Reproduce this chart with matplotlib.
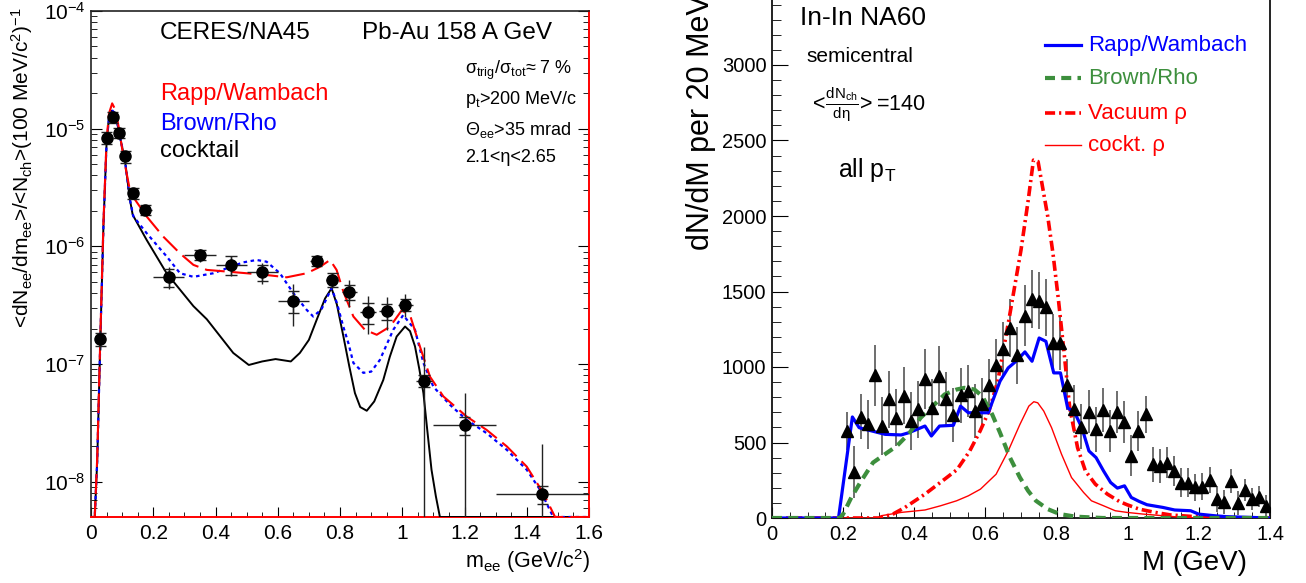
import numpy as np
import matplotlib
matplotlib.use("Agg")
import matplotlib.pyplot as plt
from matplotlib.ticker import MultipleLocator, LogLocator, NullFormatter

plt.rcParams['font.family'] = ['Liberation Sans', 'DejaVu Sans']
plt.rcParams['mathtext.fontset'] = 'custom'
plt.rcParams['mathtext.rm'] = 'Liberation Sans'
plt.rcParams['mathtext.it'] = 'Liberation Sans:italic'
plt.rcParams['mathtext.default'] = 'regular'

# ---------------- CERES/NA45 (left) ----------------
ceres_m = [0.03, 0.05, 0.07, 0.09, 0.11, 0.135, 0.175, 0.25, 0.35, 0.45, 0.55,
           0.65, 0.725, 0.775, 0.83, 0.89, 0.95, 1.01, 1.07, 1.2, 1.45]
ceres_y = [1.63e-7, 8.4e-6, 1.25e-5, 9.2e-6, 5.8e-6, 2.83e-6, 2.04e-6, 5.45e-7,
           8.45e-7, 6.95e-7, 6.0e-7, 3.45e-7, 7.5e-7, 5.2e-7, 4.1e-7, 2.75e-7,
           2.8e-7, 3.2e-7, 7.2e-8, 3.0e-8, 7.8e-9]
ceres_dm = [0.01, 0.01, 0.01, 0.01, 0.01, 0.013, 0.02, 0.05, 0.05, 0.05, 0.05,
            0.05, 0.02, 0.02, 0.025, 0.025, 0.025, 0.025, 0.025, 0.1, 0.15]
ceres_stat_hi = [0.2, 0.1, 0.08, 0.08, 0.1, 0.1, 0.1, 0.22, 0.13, 0.2, 0.2,
                 0.38, 0.12, 0.15, 0.26, 0.37, 0.32, 0.23, 0.95, 0.9, 1.65]
ceres_stat_lo = [0.2, 0.1, 0.08, 0.08, 0.1, 0.1, 0.1, 0.2, 0.13, 0.2, 0.2,
                 0.39, 0.12, 0.15, 0.25, 0.35, 0.30, 0.21, 1.0, 1.0, 1.0]
ceres_sys = [0.13, 0.12, 0.1, 0.1, 0.12, 0.1, 0.09, 0.18, 0.1, 0.18, 0.15,
             0.22, 0.1, 0.14, 0.15, 0.2, 0.15, 0.12, 0.12, 0.17, 0.17]

cock_m = [0.0, 0.012, 0.02, 0.03, 0.04, 0.05, 0.058, 0.066, 0.075, 0.085, 0.093,
          0.109, 0.125, 0.134, 0.179, 0.243, 0.329, 0.372, 0.457, 0.507, 0.55,
          0.593, 0.642, 0.671, 0.7, 0.725, 0.752, 0.773, 0.79, 0.811, 0.83, 0.848,
          0.865, 0.886, 0.91, 0.939, 0.96, 0.982, 1.009, 1.025, 1.041, 1.055,
          1.068, 1.08, 1.094, 1.108, 1.121, 1.6]
cock_v = [5e-9, 5e-9, 1.5e-8, 1.6e-7, 1.5e-6, 7.5e-6, 1.25e-5, 1.42e-5, 1.35e-5,
          1.1e-5, 8.5e-6, 5.4e-6, 2.5e-6, 1.85e-6, 1.13e-6, 5.9e-7, 3.1e-7,
          2.4e-7, 1.24e-7, 9.8e-8, 1.05e-7, 1.1e-7, 1.05e-7, 1.24e-7, 1.6e-7,
          2.37e-7, 3.6e-7, 4.4e-7, 3.2e-7, 1.71e-7, 9.5e-8, 5.65e-8, 4.3e-8,
          4.0e-8, 4.8e-8, 7.3e-8, 1.15e-7, 1.71e-7, 2.08e-7, 1.9e-7, 1.41e-7,
          9e-8, 5.65e-8, 2.8e-8, 1.26e-8, 7.5e-9, 5e-9, 5e-9]

rapp_m = [0.0, 0.012, 0.02, 0.03, 0.04, 0.05, 0.058, 0.068, 0.078, 0.09, 0.104,
          0.125, 0.141, 0.179, 0.232, 0.286, 0.329, 0.372, 0.436, 0.5, 0.564,
          0.629, 0.693, 0.736, 0.768, 0.789, 0.811, 0.843, 0.88, 0.918, 0.961,
          0.998, 1.025, 1.057, 1.089, 1.132, 1.207, 1.271, 1.336, 1.4, 1.453,
          1.491, 1.6]
rapp_v = [5e-9, 5e-9, 1.6e-8, 1.7e-7, 1.6e-6, 8e-6, 1.35e-5, 1.64e-5, 1.45e-5,
          1.0e-5, 5.8e-6, 3.0e-6, 2.5e-6, 1.79e-6, 1.21e-6, 8.7e-7, 6.95e-7,
          6.3e-7, 6.1e-7, 5.9e-7, 5.7e-7, 5.45e-7, 5.9e-7, 6.7e-7, 7.65e-7,
          6.3e-7, 4.1e-7, 2.53e-7, 1.95e-7, 1.77e-7, 2.08e-7, 2.85e-7, 2.6e-7,
          1.4e-7, 7.8e-8, 5.3e-8, 3.57e-8, 2.75e-8, 1.99e-8, 1.34e-8, 8.0e-9,
          5e-9, 5e-9]

brown_m = [0.0, 0.012, 0.02, 0.03, 0.04, 0.05, 0.058, 0.066, 0.075, 0.085, 0.093,
           0.109, 0.125, 0.136, 0.179, 0.243, 0.286, 0.329, 0.393, 0.436, 0.489,
           0.532, 0.564, 0.607, 0.65, 0.693, 0.714, 0.74, 0.757, 0.773, 0.79,
           0.81, 0.827, 0.843, 0.875, 0.9, 0.928, 0.971, 1.003, 1.041, 1.068,
           1.1, 1.153, 1.207, 1.271, 1.336, 1.4, 1.443, 1.485, 1.6]
brown_v = [5e-9, 5e-9, 1.5e-8, 1.6e-7, 1.5e-6, 7.5e-6, 1.25e-5, 1.45e-5, 1.37e-5,
           1.1e-5, 8.5e-6, 5.4e-6, 2.5e-6, 1.8e-6, 1.29e-6, 8.2e-7, 5.9e-7,
           5.5e-7, 5.9e-7, 6.5e-7, 7.3e-7, 7.65e-7, 7.4e-7, 5.9e-7, 4.0e-7,
           2.88e-7, 2.53e-7, 2.9e-7, 3.6e-7, 4.4e-7, 3.3e-7, 2.1e-7, 1.5e-7,
           1.02e-7, 8.4e-8, 8.6e-8, 1.08e-7, 1.95e-7, 2.6e-7, 1.95e-7, 1.02e-7,
           6.4e-8, 4.5e-8, 3.35e-8, 2.58e-8, 1.86e-8, 1.26e-8, 8.5e-9, 5e-9, 5e-9]

# ---------------- NA60 In-In (right) ----------------
na60_M = [0.21, 0.23, 0.25, 0.27, 0.29, 0.31, 0.33, 0.35, 0.37, 0.39,
          0.41, 0.43, 0.45, 0.47, 0.49, 0.51, 0.53, 0.55, 0.57, 0.59,
          0.61, 0.63, 0.65, 0.67, 0.69, 0.71, 0.73, 0.75, 0.77, 0.79,
          0.81, 0.83, 0.85, 0.87, 0.89, 0.91, 0.93, 0.95, 0.97, 0.99,
          1.01, 1.03, 1.05, 1.07, 1.09, 1.11, 1.13, 1.15, 1.17, 1.19,
          1.21, 1.23, 1.25, 1.27, 1.29, 1.31, 1.33, 1.35, 1.37, 1.39]
na60_y = [575, 305, 670, 620, 945, 610, 785, 665, 810, 642,
          720, 920, 730, 940, 790, 682, 812, 840, 708, 757,
          880, 1015, 1120, 1258, 1078, 1340, 1450, 1440, 1395, 1160,
          1160, 884, 720, 605, 705, 587, 715, 576, 704, 638,
          412, 576, 686, 356, 345, 367, 312, 235, 235, 202,
          207, 251, 125, 108, 246, 97, 185, 125, 141, 81]
na60_err = [125, 170, 150, 160, 200, 190, 190, 190, 190, 190,
            190, 200, 190, 200, 180, 180, 180, 170, 180, 170,
            170, 170, 180, 190, 190, 200, 190, 190, 190, 190,
            180, 170, 160, 150, 145, 150, 145, 140, 140, 140,
            135, 130, 120, 115, 110, 105, 100, 95, 95, 90,
            90, 85, 85, 80, 80, 80, 75, 75, 70, 70]

rw_M = [0, 0.187, 0.226, 0.245, 0.273, 0.318, 0.363, 0.385, 0.43, 0.448, 0.471,
        0.51, 0.53, 0.552, 0.575, 0.608, 0.641, 0.664, 0.686, 0.711, 0.731,
        0.751, 0.77, 0.792, 0.811, 0.831, 0.851, 0.871, 0.891, 0.911, 0.932,
        0.952, 0.971, 0.991, 1.01, 1.032, 1.054, 1.099, 1.132, 1.177, 1.199,
        1.244, 1.277, 1.4]
rw_v = [0, 0, 669, 598, 581, 554, 550, 565, 609, 543, 609,
        614, 741, 697, 697, 697, 906, 994, 1038, 1100, 1038,
        1192, 1170, 961, 961, 730, 697, 598, 444, 400, 312,
        235, 198, 213, 136, 110, 88, 70, 53, 48, 26,
        15, 9, 0]

br_M = [0, 0.19, 0.2, 0.223, 0.251, 0.284, 0.324, 0.351, 0.385, 0.418, 0.452,
        0.485, 0.519, 0.541, 0.569, 0.591, 0.619, 0.641, 0.669, 0.697, 0.72,
        0.742, 0.775, 0.809, 0.853, 0.93, 1.4]
br_v = [0, 0, 26, 136, 246, 367, 433, 477, 559, 664, 741,
        818, 851, 862, 851, 807, 686, 565, 400, 268, 180,
        114, 59, 26, 9, 0, 0]

vac_M = [0, 0.30, 0.34, 0.374, 0.43, 0.487, 0.52, 0.555, 0.585, 0.61, 0.635,
         0.665, 0.70, 0.72, 0.735, 0.748, 0.76, 0.775, 0.79, 0.805, 0.82,
         0.837, 0.859, 0.881, 0.909, 0.943, 0.976, 0.998, 1.032, 1.077, 1.121,
         1.188, 1.266, 1.4]
vac_v = [0, 0, 26, 70, 158, 260, 320, 440, 576, 708, 910,
         1300, 1775, 2100, 2370, 2360, 2200, 2000, 1750, 1450, 1120,
         730, 466, 312, 224, 158, 110, 88, 59, 37, 20,
         9, 0, 0]

ck_M = [0, 0.3, 0.307, 0.363, 0.43, 0.474, 0.519, 0.552, 0.586, 0.63, 0.664,
        0.697, 0.722, 0.736, 0.747, 0.764, 0.786, 0.814, 0.842, 0.876, 0.898,
        0.932, 0.965, 0.998, 1.043, 1.099, 1.155, 1.21, 1.4]
ck_v = [0, 0, 15, 37, 53, 81, 114, 147, 191, 290, 444,
        620, 741, 770, 763, 708, 598, 422, 268, 169, 114,
        81, 48, 37, 26, 15, 4, 0, 0]

RED = '#ff0000'
BLUE = '#0000ff'
GREEN = '#3d8f3d'

W, H = 1306.0, 583.0
fig = plt.figure(figsize=(W / 100, H / 100), dpi=100)


def box(x0, x1, ytop, ybot):
    return [x0 / W, 1 - ybot / H, (x1 - x0) / W, (ybot - ytop) / H]


# ================= left panel =================
ax1 = fig.add_axes(box(91, 589, 11, 517))
ax1.set_yscale('log')
ax1.set_xlim(0, 1.6)
ax1.set_ylim(5e-9, 1e-4)

ax1.plot(cock_m, cock_v, color='black', lw=1.4, zorder=3)
ax1.plot(brown_m, brown_v, color=BLUE, lw=1.6, ls=(0, (1.6, 1.6)), zorder=4)
ax1.plot(rapp_m, rapp_v, color=RED, lw=1.5, ls=(0, (9.5, 3.4)), zorder=5)

y = np.array(ceres_y)
m = np.array(ceres_m)
lo = y - np.maximum(y * (1 - np.array(ceres_stat_lo)), 1e-10)
hi = y * np.array(ceres_stat_hi)
ax1.errorbar(m, y, xerr=ceres_dm, yerr=[lo, hi], fmt='none', ecolor='#222222',
             elinewidth=1.0, capsize=0, zorder=6)
# systematic errors as small crosses
sys = np.array(ceres_sys)
ax1.vlines(m, y * (1 - sys), y * (1 + sys), color='#222222', lw=1.0, zorder=6)
ax1.hlines(y * (1 + sys), m - 0.018, m + 0.018, color='#222222', lw=1.0, zorder=6)
ax1.hlines(y * (1 - sys), m - 0.018, m + 0.018, color='#222222', lw=1.0, zorder=6)
ax1.plot(m, y, 'o', color='black', ms=8, zorder=7)

ax1.set_xticks([0, 0.2, 0.4, 0.6, 0.8, 1.0, 1.2, 1.4, 1.6])
ax1.set_xticklabels(['0', '0.2', '0.4', '0.6', '0.8', '1', '1.2', '1.4', '1.6'])
ax1.xaxis.set_minor_locator(MultipleLocator(0.05))
ax1.yaxis.set_minor_locator(LogLocator(base=10, subs=range(2, 10), numticks=20))
ax1.yaxis.set_minor_formatter(NullFormatter())
ax1.tick_params(axis='both', which='both', direction='in', labelsize=15)
ax1.tick_params(axis='y', which='both', right=True)
ax1.tick_params(axis='x', which='major', length=7, pad=5)
ax1.tick_params(axis='x', which='minor', length=3.5)
ax1.tick_params(axis='y', which='major', length=8, pad=4)
ax1.tick_params(axis='y', which='minor', length=4)
for s in ['left', 'top']:
    ax1.spines[s].set_color('#222222')
    ax1.spines[s].set_linewidth(1.2)
for s in ['right', 'bottom']:
    ax1.spines[s].set_color(RED)
    ax1.spines[s].set_linewidth(1.4)


def ax1_pt(px, py):
    return (px - 91) / 498.0, (517 - py) / 506.0


t = ax1.transAxes
ax1.text(*ax1_pt(160, 33), 'CERES/NA45', transform=t, fontsize=17.5, va='center')
ax1.text(*ax1_pt(362, 33), 'Pb-Au 158 A GeV', transform=t, fontsize=17.5, va='center')
ax1.text(*ax1_pt(160, 94), 'Rapp/Wambach', transform=t, fontsize=17, va='center', color=RED)
ax1.text(*ax1_pt(160, 124), 'Brown/Rho', transform=t, fontsize=17, va='center', color=BLUE)
ax1.text(*ax1_pt(160, 151), 'cocktail', transform=t, fontsize=17, va='center', color='black')
ax1.text(*ax1_pt(465, 70), r'σ$_{trig}$/σ$_{tot}$≈ 7 %', transform=t, fontsize=13, va='center')
ax1.text(*ax1_pt(465, 99), r'p$_{t}$>200 MeV/c', transform=t, fontsize=13, va='center')
ax1.text(*ax1_pt(465, 130), r'Θ$_{ee}$>35 mrad', transform=t, fontsize=13, va='center')
ax1.text(*ax1_pt(465, 157), '2.1<η<2.65', transform=t, fontsize=13, va='center')

fig.text(22 / W, 1 - 8 / H,
         r'<dN$_{ee}$/dm$_{ee}$>/<N$_{ch}$>(100 MeV/c$^{2}$)$^{-1}$',
         rotation=90, ha='center', va='top', fontsize=15)
fig.text(590 / W, 1 - 561 / H, r'm$_{ee}$ (GeV/c$^{2}$)', ha='right', va='center', fontsize=15.5)

# ================= right panel =================
ax2 = fig.add_axes(box(772, 1270, 518 - 528.5, 518))
ax2.set_xlim(0, 1.4)
ax2.set_ylim(0, 3500)

ax2.errorbar(na60_M, na60_y, yerr=na60_err, fmt='none', ecolor='#555555',
             elinewidth=1.2, capsize=0, zorder=3)
ax2.plot(ck_M, ck_v, color=RED, lw=1.0, zorder=4)
ax2.plot(vac_M, vac_v, color=RED, lw=2.6, ls=(0, (2.8, 1.1, 0.6, 1.1)), zorder=6)
ax2.plot(rw_M, rw_v, color=BLUE, lw=2.3, zorder=7)
ax2.plot(br_M, br_v, color=GREEN, lw=3.0, ls=(0, (2.4, 1.5)), zorder=7.5)
ax2.plot(na60_M, na60_y, '^', color='black', ms=9, zorder=8)

ax2.set_xticks([0, 0.2, 0.4, 0.6, 0.8, 1.0, 1.2, 1.4])
ax2.set_xticklabels(['0', '0.2', '0.4', '0.6', '0.8', '1', '1.2', '1.4'])
ax2.xaxis.set_minor_locator(MultipleLocator(0.05))
ax2.yaxis.set_major_locator(MultipleLocator(500))
ax2.yaxis.set_minor_locator(MultipleLocator(100))
ax2.tick_params(axis='both', which='both', direction='in', labelsize=14.5)
ax2.tick_params(axis='x', which='major', length=8, pad=5)
ax2.tick_params(axis='x', which='minor', length=4)
ax2.tick_params(axis='y', which='major', length=11.5, pad=4)
ax2.tick_params(axis='y', which='minor', length=6.5)
ax2.spines['top'].set_visible(False)
for s in ['left', 'right', 'bottom']:
    ax2.spines[s].set_color('#111111')
    ax2.spines[s].set_linewidth(1.3)


def ax2_pt(px, py):
    return (px - 772) / 498.0, (518 - py) / 528.5


t2 = ax2.transAxes
ax2.text(*ax2_pt(800, 18), 'In-In NA60', transform=t2, fontsize=19, va='center')
ax2.text(*ax2_pt(806, 57), 'semicentral', transform=t2, fontsize=15, va='center')
ax2.text(*ax2_pt(809, 105), r'$<\!\frac{dN_{ch}}{d\eta}\!>$=140', transform=t2,
         fontsize=15.5, va='center')
ax2.text(*ax2_pt(838, 170), r'all p$_{T}$', transform=t2, fontsize=18, va='center')

# legend rows: sample line + coloured label
leg = [('Rapp/Wambach', BLUE, '-', 2.3, 45),
       ('Brown/Rho', GREEN, (0, (2.4, 1.5)), 3.0, 78),
       ('Vacuum ρ', RED, (0, (2.8, 1.1, 0.6, 1.1)), 2.6, 113),
       ('cockt. ρ', RED, '-', 1.0, 145)]
for label, col, ls, lw, py in leg:
    x0, yy = ax2_pt(1045, py)
    x1, _ = ax2_pt(1081, py)
    ax2.plot([x0, x1], [yy, yy], transform=t2, color=col, ls=ls, lw=lw, clip_on=False)
    ax2.text(*ax2_pt(1088, py), label, transform=t2, fontsize=16, va='center', color=col)

fig.text(701 / W, 1 - 250 / H, 'dN/dM per 20 MeV', rotation=90, ha='center',
         va='bottom', fontsize=22)
fig.text(1247 / W, 1 - 563 / H, 'M (GeV)', ha='right', va='center', fontsize=20)

fig.savefig('out.png', dpi=100)
